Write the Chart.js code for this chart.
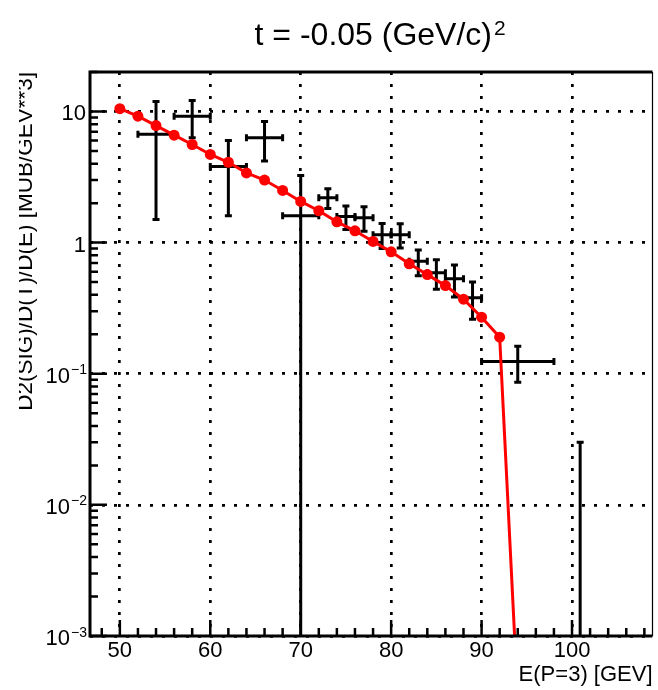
<!DOCTYPE html>
<html>
<head>
<meta charset="utf-8">
<title>t = -0.05 (GeV/c)^2</title>
<script src="https://cdn.jsdelivr.net/npm/chart.js@4.4.1/dist/chart.umd.min.js"></script>
<style>
  html, body { margin: 0; padding: 0; background: #fff; }
  #plot { display: block; }
</style>
</head>
<body>
<canvas id="plot" width="658" height="690"></canvas>
<script>
"use strict";

// model curve (red)
var modelE   = [50, 52, 54, 56, 58, 60, 62, 64, 66, 68, 70, 72, 74, 76, 78, 80, 82, 84, 86, 88, 90, 92, 94];
var modelSig = [10.5, 9.2, 7.8, 6.6, 5.6, 4.7, 4.1, 3.4, 3.0, 2.5, 2.06, 1.75, 1.44, 1.23, 1.02,
                0.85, 0.69, 0.57, 0.47, 0.37, 0.27, 0.19, 0.00033];

// measured points, symmetric errors
var dataE      = [54, 58, 62, 66, 70, 73, 75, 77, 79, 81, 83, 85, 87, 89, 94, 100.9];
var dataEErr   = [2, 2, 2, 2, 2, 1, 1, 1, 1, 1, 1, 1, 1, 1, 4, 2];
var dataSig    = [6.7, 9.2, 3.8, 6.3, 1.6, 2.2, 1.58, 1.55, 1.15, 1.15, 0.72, 0.59, 0.53, 0.38, 0.124, 0];
var dataSigErr = [5.2, 2.9, 2.2, 2.1, 1.65, 0.38, 0.32, 0.33, 0.25, 0.24, 0.16, 0.15, 0.145, 0.12, 0.038, 0.03];

var xTicks    = [50, 60, 70, 80, 90, 100];
var yTicks    = [0.001, 0.01, 0.1, 1, 10];
var yTickBase = ['10', '10', '10', '1', '10'];
var yTickExp  = ['\u22123', '\u22122', '\u22121', '', ''];

var titleText = 't = -0.05 (GeV/c)';
var titleExp  = '2';
var xTitle    = 'E(P=3) [GEV]';
var yTitle    = 'D2(SIG)/D(T)/D(E) [MUB/GEV**3]';

var FONT = "'Liberation Sans', Arial, Helvetica, sans-serif";
Chart.defaults.font.family = FONT;
Chart.defaults.color = '#000';

function toPoints(xs, ys) {
    return xs.map(function (x, i) { return {x: x, y: ys[i]}; });
}

// crosses drawn under the red curve
var errorBars = {
    id: 'errorBars',
    beforeDatasetsDraw: function (chart) {
        var ctx = chart.ctx, a = chart.chartArea;
        var sx = chart.scales.x, sy = chart.scales.y;
        var py = function (v) { return v > 0 ? sy.getPixelForValue(v) : a.bottom + 50; };
        var c = 3.5;
        ctx.save();
        ctx.beginPath();
        ctx.rect(a.left, a.top, a.right - a.left, a.bottom - a.top);
        ctx.clip();
        ctx.strokeStyle = '#000';
        ctx.lineWidth = 3;
        for (var i = 0; i < dataE.length; i++) {
            var x  = sx.getPixelForValue(dataE[i]);
            var x0 = sx.getPixelForValue(dataE[i] - dataEErr[i]);
            var x1 = sx.getPixelForValue(dataE[i] + dataEErr[i]);
            var y  = py(dataSig[i]);
            var y0 = py(dataSig[i] - dataSigErr[i]);
            var y1 = py(dataSig[i] + dataSigErr[i]);
            ctx.beginPath();
            ctx.moveTo(x0, y); ctx.lineTo(x1, y);
            ctx.moveTo(x, y0); ctx.lineTo(x, y1);
            ctx.moveTo(x0, y - c); ctx.lineTo(x0, y + c);
            ctx.moveTo(x1, y - c); ctx.lineTo(x1, y + c);
            ctx.moveTo(x - c, y0); ctx.lineTo(x + c, y0);
            ctx.moveTo(x - c, y1); ctx.lineTo(x + c, y1);
            ctx.stroke();
        }
        ctx.restore();
    }
};

// frame + inward tick marks
var frame = {
    id: 'frame',
    afterDatasetsDraw: function (chart) {
        var ctx = chart.ctx, a = chart.chartArea;
        var sx = chart.scales.x, sy = chart.scales.y;
        var e, d, m, p, len;
        ctx.save();
        ctx.strokeStyle = '#000';
        ctx.lineWidth = 2.5;
        ctx.beginPath();
        for (e = 48; e <= 108; e += 2) {
            p = sx.getPixelForValue(e);
            len = e % 10 === 0 ? 16 : 8;
            ctx.moveTo(p, a.bottom); ctx.lineTo(p, a.bottom - len);
        }
        for (d = -3; d <= 1; d++) {
            for (m = 1; m <= 9; m++) {
                var v = m * Math.pow(10, d);
                if (v > sy.max) break;
                p = sy.getPixelForValue(v);
                len = m === 1 ? 17 : 8;
                ctx.moveTo(a.left, p); ctx.lineTo(a.left + len, p);
            }
        }
        ctx.stroke();
        ctx.lineWidth = 3;
        ctx.beginPath();
        ctx.moveTo(a.right, a.top); ctx.lineTo(a.left, a.top);
        ctx.lineTo(a.left, a.bottom); ctx.lineTo(a.right, a.bottom);
        ctx.stroke();
        ctx.lineWidth = 1.2;
        ctx.beginPath();
        ctx.moveTo(a.right, a.top); ctx.lineTo(a.right, a.bottom);
        ctx.stroke();
        ctx.restore();
    }
};

// title, y labels with exponents, rotated y title
var texts = {
    id: 'texts',
    afterDraw: function (chart) {
        var ctx = chart.ctx, a = chart.chartArea, sy = chart.scales.y;
        ctx.save();
        ctx.fillStyle = '#000';
        ctx.textBaseline = 'alphabetic';

        ctx.font = '32px ' + FONT;
        ctx.textAlign = 'right';
        ctx.fillText(titleText, 492, 45);
        ctx.font = '21px ' + FONT;
        ctx.textAlign = 'left';
        ctx.fillText(titleExp, 494, 35);

        for (var i = 0; i < yTicks.length; i++) {
            var base = sy.getPixelForValue(yTicks[i]) + 9;
            var right = 87;
            if (yTickExp[i]) {
                ctx.font = '14px ' + FONT;
                ctx.textAlign = 'right';
                ctx.fillText(yTickExp[i], right, base - 8.5);
                right -= ctx.measureText(yTickExp[i]).width + 1;
            } else {
                right = 86;
            }
            ctx.font = '22px ' + FONT;
            ctx.textAlign = 'right';
            ctx.fillText(yTickBase[i], right, base);
        }

        ctx.beginPath();
        ctx.rect(19, 0, 100, chart.height);
        ctx.clip();
        ctx.translate(32, a.top);
        ctx.rotate(-Math.PI / 2);
        ctx.font = '22.5px ' + FONT;
        ctx.textAlign = 'right';
        ctx.fillText(yTitle, 0, 0);
        ctx.restore();
    }
};

var dotted = {color: '#000', lineWidth: 2.7, drawTicks: false};

new Chart(document.getElementById('plot').getContext('2d'), {
    type: 'scatter',
    data: {
        datasets: [{
            label: 'data',
            data: toPoints(dataE, dataSig.map(function (v) { return v > 0 ? v : null; })),
            pointRadius: 0,
            pointHoverRadius: 0,
            showLine: false
        }, {
            label: 'model',
            data: toPoints(modelE, modelSig),
            showLine: true,
            borderColor: '#ff0000',
            backgroundColor: '#ff0000',
            borderWidth: 3,
            pointRadius: 5.5,
            pointBackgroundColor: '#ff0000',
            pointBorderColor: '#ff0000',
            pointBorderWidth: 0,
            tension: 0
        }]
    },
    options: {
        responsive: false,
        animation: false,
        events: [],
        layout: {padding: {top: 72, left: 0, right: 1.5, bottom: 0}},
        plugins: {
            legend: {display: false},
            tooltip: {enabled: false},
            title: {display: false}
        },
        scales: {
            x: {
                type: 'linear',
                min: 46.7,
                max: 108.9,
                afterBuildTicks: function (scale) {
                    scale.ticks = xTicks.map(function (v) { return {value: v}; });
                },
                afterFit: function (scale) { scale.height = 54; },
                grid: dotted,
                border: {display: false, dash: [3, 9]},
                ticks: {
                    autoSkip: false,
                    maxRotation: 0,
                    padding: 2,
                    font: {size: 22},
                    callback: function (v) { return String(v); }
                },
                title: {
                    display: true,
                    text: xTitle,
                    align: 'end',
                    font: {size: 22},
                    padding: {top: 0, bottom: 1.5}
                }
            },
            y: {
                type: 'logarithmic',
                min: 0.001,
                max: 20,
                afterBuildTicks: function (scale) {
                    scale.ticks = yTicks.map(function (v) { return {value: v}; });
                },
                afterFit: function (scale) { scale.width = 90; },
                grid: dotted,
                border: {display: false, dash: [3, 9]},
                ticks: {display: false}
            }
        }
    },
    plugins: [errorBars, frame, texts]
});
</script>
</body>
</html>
